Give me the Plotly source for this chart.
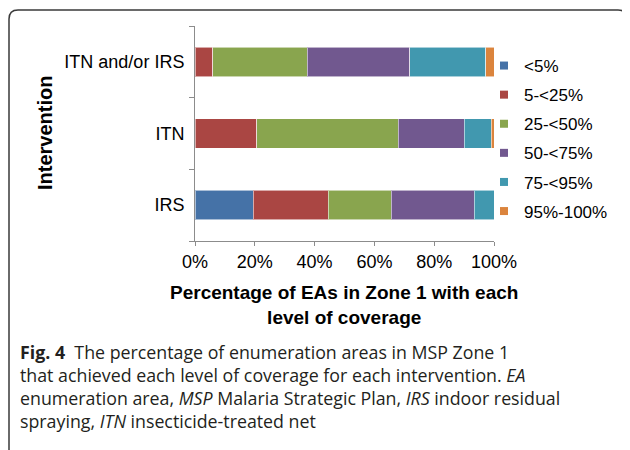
import plotly.graph_objects as go

# ---- data ----
interventions = ["ITN and/or IRS", "ITN", "IRS"]
levels = ["<5%", "5-<25%", "25-<50%", "50-<75%", "75-<95%", "95%-100%"]
colors = ["#4572A7", "#AA4643", "#89A54E", "#71588F", "#4198AF", "#DB843D"]
pct_itn_or_irs = [0.0, 6.0, 31.5, 34.4, 25.4, 2.7]
pct_itn = [0.0, 20.7, 47.3, 22.0, 9.1, 0.9]
pct_irs = [19.5, 25.0, 21.1, 27.8, 6.6, 0.0]
x_ticks = [0, 20, 40, 60, 80, 100]
x_tick_labels = ["0%", "20%", "40%", "60%", "80%", "100%"]

values_by_intervention = {
    "ITN and/or IRS": pct_itn_or_irs,
    "ITN": pct_itn,
    "IRS": pct_irs,
}

OFF = 8  # page body margin
W, H = 630 - OFF, 450 - OFF
L, R, T, B = 195 - OFF, 494 - OFF, 26 - OFF, 241 - OFF  # plot area in figure pixels

fig = go.Figure()
for i, lev in enumerate(levels):
    fig.add_trace(go.Bar(
        y=interventions,
        x=[values_by_intervention[c][i] for c in interventions],
        orientation="h",
        name=lev,
        marker=dict(color=colors[i], line=dict(color="rgba(255,255,255,0.55)", width=1)),
        showlegend=False,
    ))
# legend entries (small square markers)
for i, lev in enumerate(levels):
    fig.add_trace(go.Scatter(
        x=[None], y=[None], mode="markers", name=lev,
        legendgroup=f"g{i}",
        marker=dict(symbol="square", size=8, color=colors[i]),
        showlegend=True,
    ))

font = "Liberation Sans, Arial, sans-serif"

def px_x(p):
    # p is a page pixel
    return (p - OFF - L) / (R - L)

def px_y(p):
    return (B - (p - OFF)) / (B - T)

fig.update_layout(
    width=W, height=H,
    margin=dict(l=L, r=W - R, t=T, b=H - B, pad=0),
    paper_bgcolor="white", plot_bgcolor="white",
    barmode="stack", bargap=0.59,
    font=dict(family=font, color="black", size=17),
    showlegend=True,
    legend=dict(
        x=px_x(484), y=px_y(48), xanchor="left", yanchor="top",
        traceorder="grouped", tracegroupgap=4,
        font=dict(size=17, family=font, color="black"),
        bgcolor="rgba(0,0,0,0)", itemwidth=30,
    ),
    xaxis=dict(
        range=[0, 100], tickmode="array", tickvals=x_ticks, ticktext=x_tick_labels,
        showline=True, linecolor="#8c8c8c", linewidth=1,
        ticks="outside", ticklen=4, tickcolor="#8c8c8c",
        showgrid=False, zeroline=False,
        tickfont=dict(size=18, family=font, color="black"),
        fixedrange=True,
    ),
    yaxis=dict(
        categoryorder="array", categoryarray=interventions[::-1],
        range=[-0.5, 2.5],
        showline=True, linecolor="#8c8c8c", linewidth=1,
        ticks="outside", ticklen=5, tickcolor="#8c8c8c", tickson="boundaries",
        showgrid=False, zeroline=False,
        tickfont=dict(size=18, family=font, color="black"),
        ticklabelstandoff=6,
        fixedrange=True,
    ),
)

# axis titles
fig.add_annotation(
    x=px_x(45), y=px_y(133), xref="paper", yref="paper",
    text="<b>Intervention</b>", textangle=-90, showarrow=False,
    font=dict(size=20, family=font, color="black"),
    xanchor="center", yanchor="middle",
)
fig.add_annotation(
    x=px_x(344), y=px_y(305), xref="paper", yref="paper",
    text="<b>Percentage of EAs in Zone 1 with each<br>level of coverage</b>",
    showarrow=False, align="center",
    font=dict(size=19, family=font, color="black"),
    xanchor="center", yanchor="middle",
)

# caption
caption = ("<b>Fig. 4</b>  The percentage of enumeration areas in MSP Zone 1<br>"
           "that achieved each level of coverage for each intervention. <i>EA</i><br>"
           "enumeration area, <i>MSP</i> Malaria Strategic Plan, <i>IRS</i> indoor residual<br>"
           "spraying, <i>ITN</i> insecticide-treated net")
fig.add_annotation(
    x=px_x(18), y=px_y(338), xref="paper", yref="paper",
    text=caption, showarrow=False, align="left",
    font=dict(size=17.8, family="Open Sans, Noto Sans, sans-serif", color="#231f20"),
    xanchor="left", yanchor="top",
)

# rounded frame
x0, x1 = px_x(9), px_x(627)
y0, y1 = px_y(10), px_y(470)
rx, ry = 9 / (R - L), 9 / (B - T)
path = (f"M {x0},{y1} L {x0},{y0 - ry} Q {x0},{y0} {x0 + rx},{y0} "
        f"L {x1 - rx},{y0} Q {x1},{y0} {x1},{y0 - ry} L {x1},{y1}")
fig.add_shape(type="path", path=path, xref="paper", yref="paper",
              line=dict(color="#3a3a3a", width=1.5), layer="above")

fig.write_html("out.html")
